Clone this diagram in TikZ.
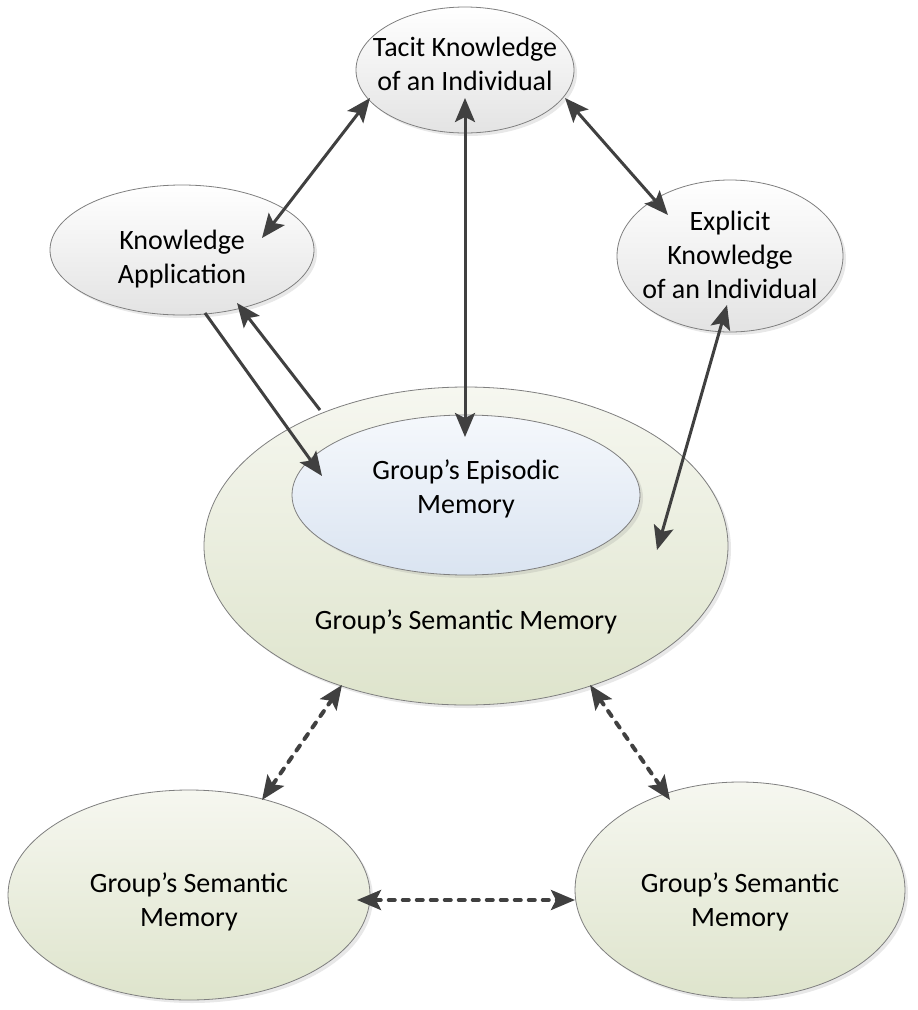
\documentclass[tikz,border=0pt]{standalone}
\usepackage{fontspec}
\setmainfont{Carlito}
\usetikzlibrary{shapes.geometric,shadows,arrows.meta}
\newcommand{\diagfont}{\fontsize{28}{34}\selectfont}
\definecolor{arrowgray}{HTML}{404040}
\definecolor{rimgray}{HTML}{7F7F7F}
\tikzstyle{words}=[font=\diagfont, align=center, inner sep=0pt]
\tikzstyle{bubble}=[ellipse, draw=rimgray, line width=0.8pt, inner sep=0pt,
drop shadow={opacity=0.18,shadow xshift=3pt,shadow yshift=-3pt}]
\tikzstyle{person}=[bubble, top color=white, bottom color=black!11]
\tikzstyle{group}=[bubble, top color={rgb,255:red,246;green,247;blue,240}, bottom color={rgb,255:red,222;green,228;blue,204}]
\tikzstyle{episode}=[bubble, top color={rgb,255:red,245;green,248;blue,252}, bottom color={rgb,255:red,218;green,228;blue,241}]
\tikzstyle{link}=[{Stealth[length=24pt,width=20pt,inset=5pt]}-{Stealth[length=24pt,width=20pt,inset=5pt]}, line width=3pt, draw=arrowgray]
\tikzstyle{flow}=[-{Stealth[length=24pt,width=20pt,inset=5pt]}, line width=3pt, draw=arrowgray]
\tikzstyle{peer}=[link, line width=4pt, line cap=round, dash pattern=on 6pt off 8pt]

\begin{document}
\begin{tikzpicture}[x=1pt,y=-1pt]
\useasboundingbox (0,0) rectangle (918,1010);
\node[person, minimum width=218pt, minimum height=126pt,
  label={[words,yshift=6pt]center:Tacit Knowledge\\of an Individual}](tacit) at (465,70){};
\node[person, minimum width=264pt, minimum height=130pt,
  label={[words,yshift=-9pt]center:Knowledge\\Application}](appl) at (182,250){};
\node[person, minimum width=226pt, minimum height=152pt,
  label={[words,yshift=1pt]center:Explicit\\Knowledge\\of an Individual}](explicit) at (730,256){};
\node[group, minimum width=524pt, minimum height=318pt,
  label={[words,yshift=-76pt]center:Group's Semantic Memory}](semantic) at (466,546){};
\node[episode, minimum width=348pt, minimum height=160pt,
  label={[words,yshift=6pt]center:Group's Episodic\\Memory}](episodic) at (466,495){};
\node[group, minimum width=362pt, minimum height=210pt,
  label={[words,yshift=-7pt]center:Group's Semantic\\Memory}](groupA) at (189,895){};
\node[group, minimum width=330pt, minimum height=216pt,
  label={[words,yshift=-12pt]center:Group's Semantic\\Memory}](groupB) at (740,890){};
% individual knowledge
\draw[link]([shift={(-95,28)}]tacit.center) -- ([shift={(80,-12)}]appl.center);
\draw[link]([shift={(0,28)}]tacit.center) -- ([shift={(-1,-58)}]episodic.center);
\draw[link]([shift={(100,28)}]tacit.center) -- ([shift={(-62,-41)}]explicit.center);
\draw[link]([shift={(-3,49)}]explicit.center) -- ([shift={(191,4)}]semantic.center);
\draw[flow]([shift={(23,63)}]appl.center) -- ([shift={(-144,-19)}]episodic.center);
\draw[flow]([shift={(-146,-136)}]semantic.center) -- ([shift={(55,53)}]appl.center);
% between groups
\draw[peer]([shift={(-124,139)}]semantic.center) -- ([shift={(73,-95)}]groupA.center);
\draw[peer]([shift={(124,139)}]semantic.center) -- ([shift={(-70,-90)}]groupB.center);
\draw[peer]([shift={(168,5)}]groupA.center) -- ([shift={(-165,10)}]groupB.center);
\end{tikzpicture}
\end{document}
